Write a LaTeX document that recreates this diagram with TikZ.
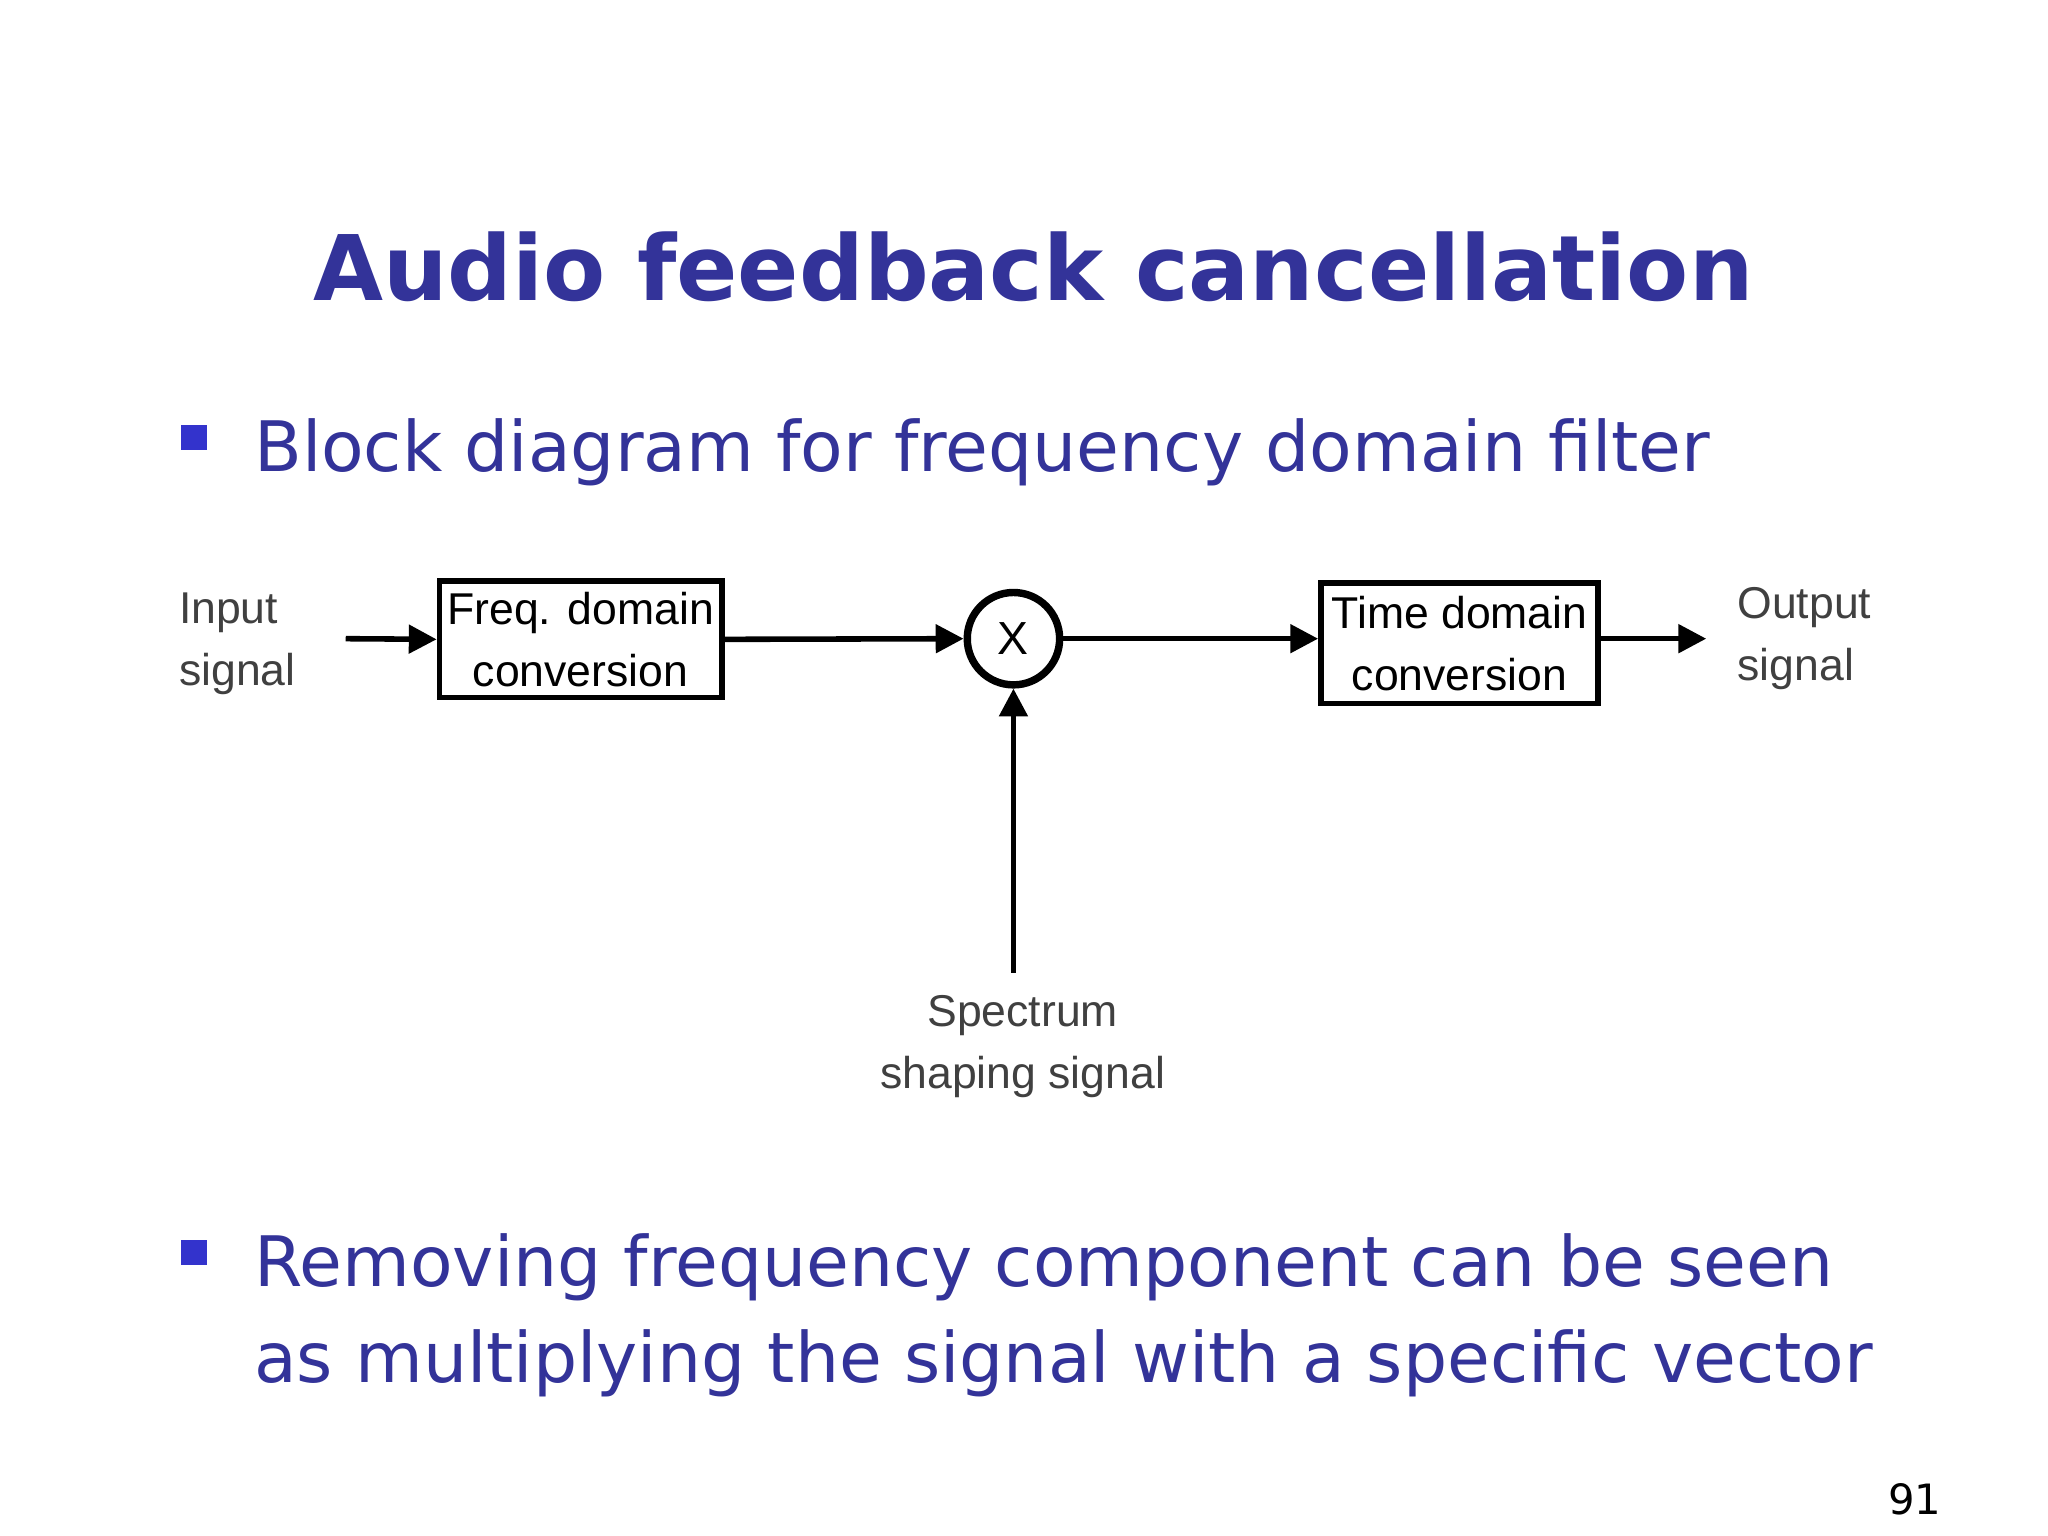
\documentclass[tikz,border=0pt]{standalone}
\usepackage{fontspec}
\setmainfont{DejaVu Sans}
\newfontfamily\diag{Liberation Sans}
\usetikzlibrary{arrows.meta}
\definecolor{navy}{HTML}{333399}
\definecolor{bul}{HTML}{3333CC}
\begin{document}
\begin{tikzpicture}[x=0.01cm,y=-0.01cm,
  blk/.style={draw,line width=1.2pt,minimum width=214*0.01cm,minimum height=88*0.01cm,align=center,font=\diag\fontsize{9.6}{13.4}\selectfont,inner sep=0pt},
  lbl/.style={align=left,font=\diag\fontsize{9.6}{13.4}\selectfont,text=black!75,inner sep=0pt},
  arr/.style={line width=1.2pt,-{Triangle[length=6pt,width=6pt]}},
  btxt/.style={anchor=base west,text=navy,font=\fontsize{15}{20.8}\selectfont,inner sep=0pt,align=left}]
\useasboundingbox (0,0) rectangle (1552,1164);
\fill[white] (0,0) rectangle (1552,1164);
\node[text=navy,font=\bfseries\fontsize{19.5}{24}\selectfont,anchor=base] (title) at (783,228) {Audio feedback cancellation};
\fill[bul] (137,322) rectangle (157,341);
\node[btxt] (b1) at (192,357) {Block diagram for frequency domain filter};
\fill[bul] (137,940) rectangle (157,959);
\node[btxt] (b2) at (192,975) {Removing frequency component can be seen};
\node[btxt] (b3) at (192,1048) {as multiplying the signal with a specific vector};
\node[blk] (f) at (440,484.5) {Freq. domain\\conversion};
\node[draw,circle,line width=1.6pt,minimum size=70*0.01cm,inner sep=0pt,font=\diag\fontsize{10}{12}\selectfont] (m) at (768,484) {X};
\node[blk,minimum width=210*0.01cm,minimum height=91*0.01cm] (t) at (1106,487.5) {Time domain\\conversion};
\node[lbl,anchor=west] (in) at (135,488) {Input\\signal};
\node[lbl,anchor=west] (out) at (1316,484) {Output\\signal};
\node[lbl,align=center] (sp) at (775,793) {Spectrum\\shaping signal};
\coordinate (ia) at (262,484);
\coordinate (oa) at (1293,484);
\coordinate (sa) at (768,737);
\draw[arr] (ia) -- (f.west);
\draw[arr] (f.east) -- (m.west);
\draw[arr] (m.east) -- (t.west|-m.east);
\draw[arr] (t.east|-oa) -- (oa);
\draw[arr] (sa) -- (m.south);
\node[font=\fontsize{9}{11}\selectfont,anchor=base east,inner sep=0pt] (pg) at (1472,1148) {91};
\end{tikzpicture}
\end{document}
